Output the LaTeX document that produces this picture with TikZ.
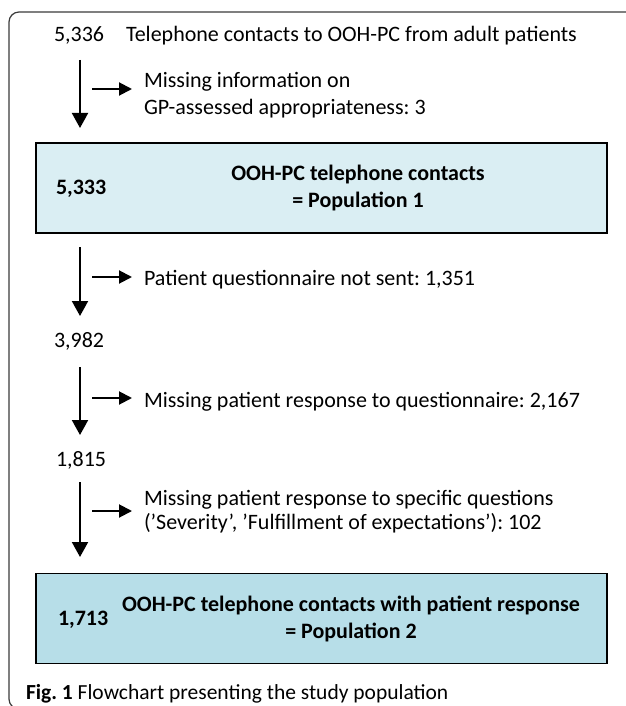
\documentclass[tikz,border=0pt]{standalone}
\usepackage{fontspec}
\setmainfont{Carlito}
\usetikzlibrary{arrows.meta}
\frenchspacing

\definecolor{paleaqua}{HTML}{DAEEF3}
\definecolor{midaqua}{HTML}{B7DEE8}
\definecolor{framegray}{HTML}{3A3A3A}

\tikzset{
	txt/.style={anchor=base west,inner sep=0pt,font=\fontsize{22}{27}\selectfont},
	excl/.style={anchor=base west,inner xsep=11pt,inner ysep=0pt,align=left,
		font=\fontsize{22}{27}\selectfont},
	popbox/.style={draw=black,line width=1.6pt,minimum width=571pt,
		minimum height=90pt,inner sep=0pt},
	poptitle/.style={align=center,inner sep=0pt,
		font=\bfseries\fontsize{22}{27}\selectfont},
	side/.style={-{Triangle[length=13pt,width=13pt]}}
}

\begin{document}
\begin{tikzpicture}[x=1pt,y=-1pt,line width=2pt,>={Triangle[length=15pt,width=16pt]}]
\useasboundingbox (0,0) rectangle (625,706);

\draw[framegray,line width=1.2pt,rounded corners=10pt] (9,12) rectangle (660,709);

\node[popbox,fill=paleaqua] (box1) at (321.5,188) {};
\node[popbox,fill=midaqua] (box2) at (321.5,618.5) {};

\node[txt] (n0) at (53,42) {5,336};
\node[txt] (t0) at (125,42) {Telephone contacts to OOH-PC from adult patients};
\node[txt,font=\bfseries\fontsize{22}{27}\selectfont] (n1) at (55,194) {5,333};
\node[poptitle] (p1) at (358,188) {OOH-PC telephone contacts\\= Population 1};
\node[txt] (n2) at (53,347) {3,982};
\node[txt] (n3) at (55,466) {1,815};
\node[txt,font=\bfseries\fontsize{22}{27}\selectfont] (n4) at (57,625) {1,713};
\node[poptitle] (p2) at (351,619) {OOH-PC telephone contacts with patient response\\= Population 2};

\node[excl] (x1) at (132,114) {Missing information on\\GP-assessed appropriateness: 3};
\node[excl] (x2) at (132,285) {Patient questionnaire not sent: 1,351};
\node[excl] (x3) at (132,407) {Missing patient response to questionnaire: 2,167};
\node[excl,font=\fontsize{22}{24}\selectfont] (x4) at (132,529)
	{Missing patient response to specific questions\\(’Severity’, ’Fulfillment of expectations’): 102};

\foreach \i/\a/\b/\s in {1/60/128/89,2/247/316/277,3/367/435/398,4/482/557/511}{
	\coordinate (top\i) at (80,\a);
	\coordinate (tip\i) at (80,\b);
	\coordinate (out\i) at (92,\s);
	\draw[->] (top\i) -- (tip\i);
	\draw[side] (out\i) -- (out\i -| x\i.west);
}

\node[anchor=base west,inner sep=0pt,font=\fontsize{21.5}{24}\selectfont] (cap) at (25,699)
	{\textbf{Fig. 1} Flowchart presenting the study population};

\end{tikzpicture}
\end{document}
